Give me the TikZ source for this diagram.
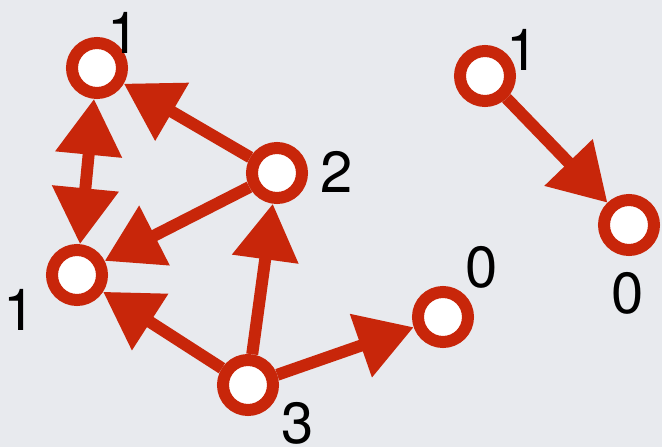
\documentclass[tikz,border=0pt]{standalone}
\usepackage{fontspec}
\setmainfont{TeX Gyre Heros}
\usetikzlibrary{arrows.meta, positioning}
\definecolor{edgered}{RGB}{200,38,10}
\definecolor{bggray}{RGB}{232,234,238}
\tikzset{
    vert/.style={circle, draw=edgered, line width=12pt, fill=white, minimum size=50pt, inner sep=0pt},
    arrow/.style={-{Triangle[length=56pt,width=64pt]}, line width=12pt, edgered},
    biarrow/.style={{Triangle[length=56pt,width=64pt]}-{Triangle[length=56pt,width=64pt]}, line width=12pt, edgered},
    lbl/.style={inner sep=0pt, font=\fontsize{58}{58}\selectfont}
}
\begin{document}
\begin{tikzpicture}[x=1pt, y=-1pt]
        \fill [bggray] (0,0) rectangle (662,447);
        \useasboundingbox (0,0) rectangle (662,447);
        % left graph
        \node [vert] (a) at (97,68) {};
        \node [vert] (b) at (77,275) {};
        \node [vert] (c) at (277,173) {};
        \node [vert] (d) at (248,385) {};
        \node [vert] (e) at (443,317) {};
        % right graph
        \node [vert] (f) at (485,76) {};
        \node [vert] (g) at (629,225) {};
        % counts
        \node [lbl] (la) at (124,33) {1};
        \node [lbl] (lb) at (20,310) {1};
        \node [lbl] (lc) at (337,172) {2};
        \node [lbl] (ld) at (298,423) {3};
        \node [lbl] (le) at (482,267) {0};
        \node [lbl] (lf) at (523,50) {1};
        \node [lbl] (lg) at (628,293) {0};
        \draw [biarrow] (a) -- (b);
        \draw [arrow] (c) -- (a);
        \draw [arrow] (c) -- (b);
        \draw [arrow] (d) -- (b);
        \draw [arrow] (d) -- (c);
        \draw [arrow] (d) -- (e);
        \draw [arrow] (f) -- (g);
    \end{tikzpicture}
\end{document}
